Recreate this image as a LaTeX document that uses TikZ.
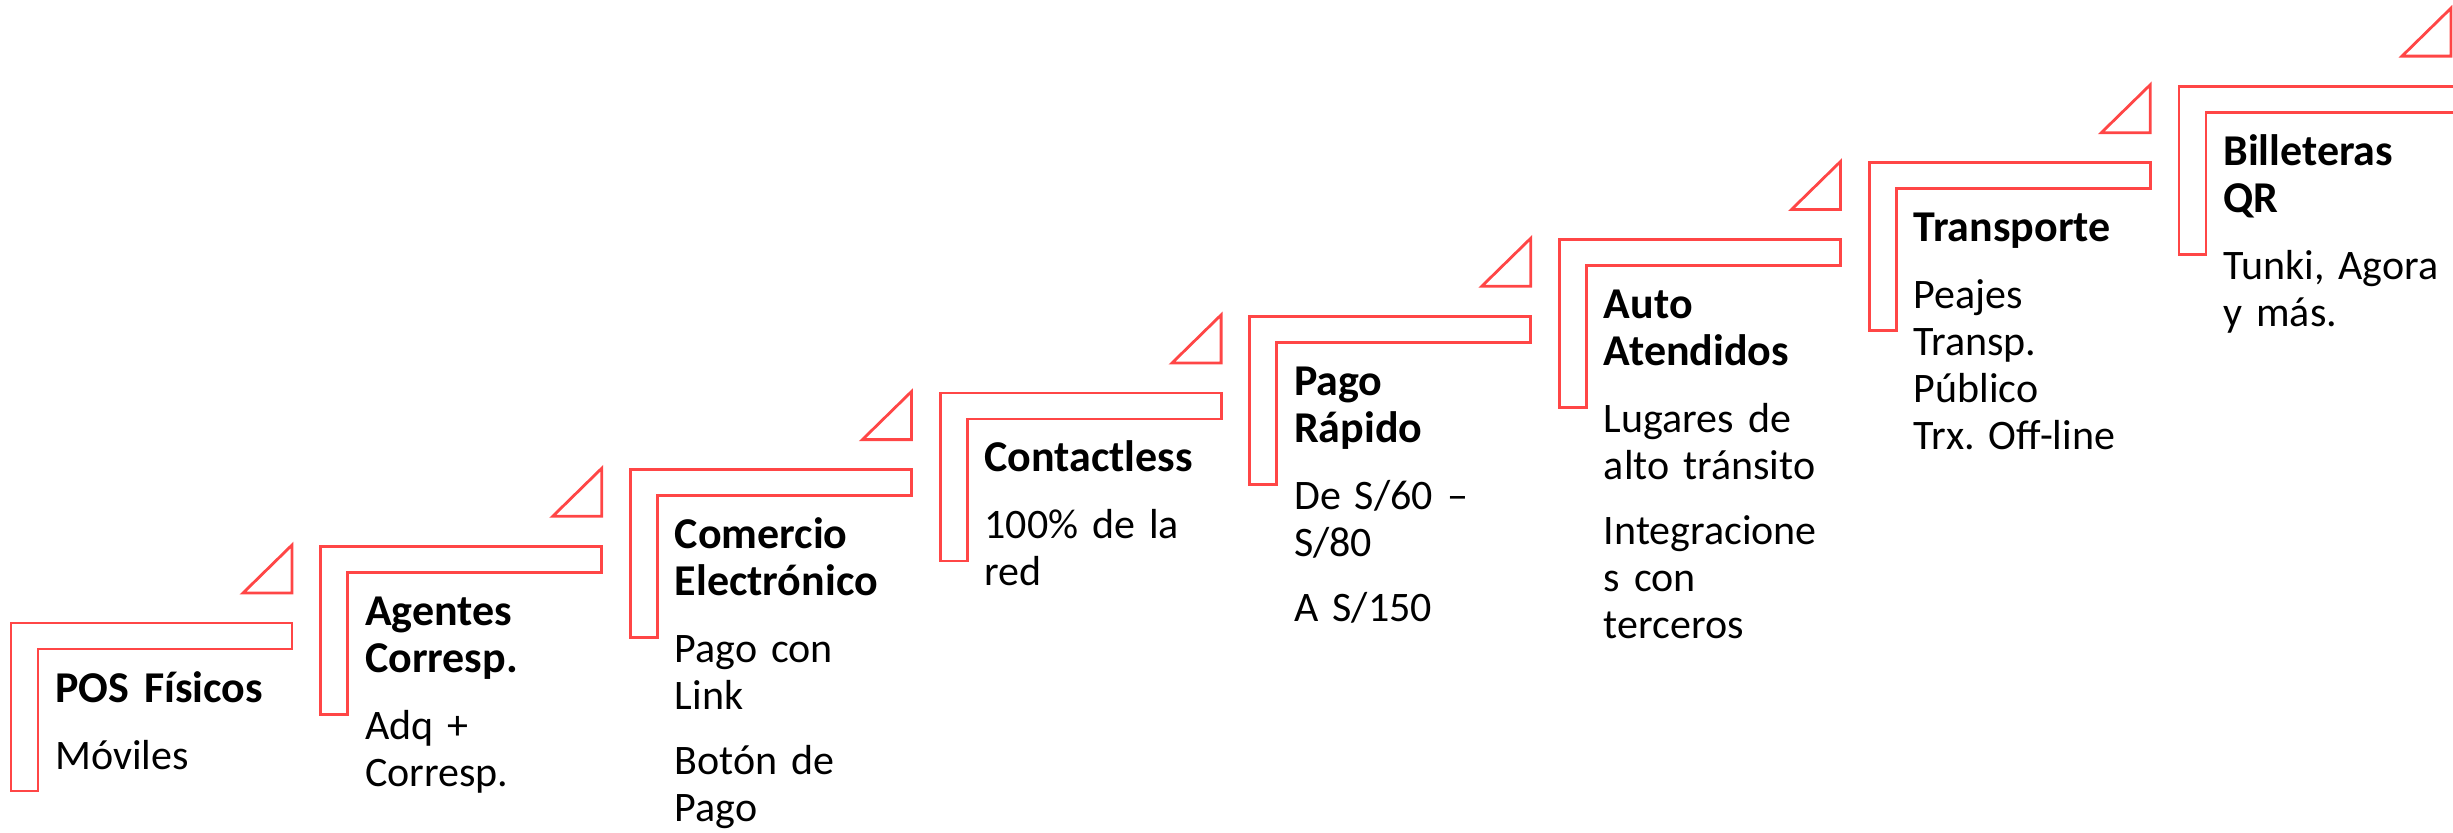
\documentclass[tikz,border=0pt]{standalone}
\usepackage{fontspec}
\setmainfont{Carlito}
\usetikzlibrary{calc}

\definecolor{stepred}{RGB}{255,70,70}

\tikzset{
	stepline/.style={draw=stepred, line width=1.4pt},
	steptitle/.style={anchor=base west, inner sep=0pt, text width=150pt,
		font=\fontsize{22pt}{23.5pt}\selectfont\bfseries\frenchspacing},
	steptext/.style={anchor=base west, inner sep=0pt, text width=150pt,
		font=\fontsize{21pt}{23.5pt}\selectfont\frenchspacing},
}

\begin{document}
\begin{tikzpicture}[x=0.5pt,y=-0.5pt]

% parameters %{{{2

	\def\dx{309.7}
	\def\dy{76.7}
	\def\barw{281}
	\def\barh{26}
	\def\legw{27}
	\def\legh{168}

% frame %{{{2

	\useasboundingbox (0,0) rectangle (2453,832);
	\clip (0,0) rectangle (2453,832);

% steps %{{{2

	\foreach \i/\n/\title/\body in {
		0/1/{POS Físicos}/{Móviles},
		1/2/{Agentes\\Corresp.}/{Adq +\\Corresp.},
		2/2/{Comercio\\Electrónico}/{Pago con\\Link\\[9pt]Botón de\\Pago},
		3/1/{Contactless}/{100\% de la\\red},
		4/2/{Pago\\Rápido}/{De S/60 –\\S/80\\[9pt]A S/150},
		5/2/{Auto\\Atendidos}/{Lugares de\\alto tránsito\\[9pt]Integracione\\s con\\terceros},
		6/1/{Transporte}/{Peajes\\Transp.\\Público\\Trx. Off-line},
		7/2/{Billeteras\\QR}/{Tunki, Agora\\y más.}
	} {
		\coordinate (S\i) at ({11+\dx*\i},{623-\dy*\i});
		\pgfmathsetmacro\tri{min(\barw,2451-11-\dx*\i)}
		% bracket
		\draw[stepline] (S\i) -- ++(\barw,0) -- ++(0,\barh) -- ++({\legw-\barw},0)
			-- ++(0,{\legh-\barh}) -- ++(-\legw,0) -- cycle;
		% triangle
		\draw[stepline] ($(S\i)+(\tri,-78)$) -- ++(0,48) -- ++(-49,0) -- cycle;
		% texts
		\node[steptitle] (T\i) at ($(S\i)+(44,79)$) {\title};
		\node[steptext] (D\i) at ($(T\i.base west)+(0,{47*(\n-1)+67})$) {\body};
	}

\end{tikzpicture}
\end{document}
